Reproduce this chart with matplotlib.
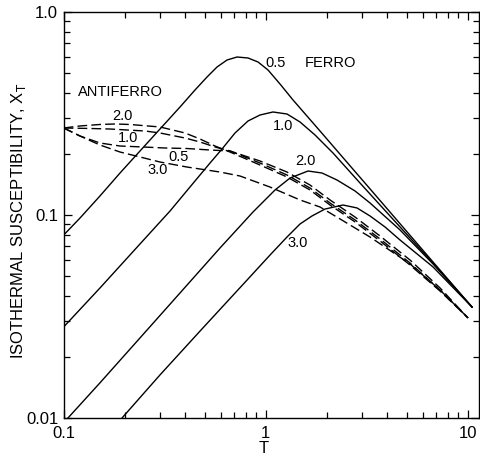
import matplotlib
matplotlib.use("Agg")
import matplotlib.pyplot as plt
from matplotlib.ticker import NullFormatter, LogLocator

plt.rcParams['font.family'] = ['Liberation Sans', 'DejaVu Sans']

# ---- Ferromagnetic curves (solid) ----
ferro_05_T = [0.100, 0.1204, 0.1512, 0.1900, 0.2386, 0.2997, 0.3765, 0.4467, 0.5123, 0.5742,
              0.6434, 0.7211, 0.8175, 0.9160, 1.0266, 1.1772, 1.3651, 1.8568, 2.4697, 3.3589,
              4.6226, 6.7297, 10.503]
ferro_05_X = [0.0797, 0.0966, 0.1241, 0.1610, 0.2067, 0.2652, 0.3404, 0.4129, 0.4784, 0.5359,
              0.5801, 0.6002, 0.5935, 0.5672, 0.5180, 0.4418, 0.3686, 0.2593, 0.1866, 0.1310,
              0.0906, 0.0587, 0.0352]

ferro_10_T = [0.100, 0.1512, 0.2386, 0.3359, 0.4467, 0.5300, 0.6077, 0.7047, 0.8175, 0.9371,
              1.0868, 1.2747, 1.4785, 1.7542, 2.1535, 2.9302, 4.1239, 6.7297, 10.503]
ferro_10_X = [0.0281, 0.0437, 0.0720, 0.1046, 0.1471, 0.1803, 0.2114, 0.2535, 0.2905, 0.3109,
              0.3217, 0.3144, 0.2872, 0.2478, 0.2020, 0.1437, 0.0989, 0.0580, 0.0352]

ferro_20_T = [0.1050, 0.1512, 0.2386, 0.3765, 0.5940, 0.8654, 1.1119, 1.3192, 1.6199, 1.9000,
              2.2542, 2.7684, 3.2832, 4.6226, 6.7297, 10.503]
ferro_20_X = [0.0100, 0.0149, 0.0248, 0.0413, 0.0688, 0.1035, 0.1328, 0.1521, 0.1647, 0.1610,
              0.1487, 0.1313, 0.1146, 0.0844, 0.0574, 0.0352]

ferro_30_T = [0.1944, 0.2997, 0.4729, 0.8081, 1.0503, 1.2747, 1.4785, 1.6951, 1.9660, 2.4140,
              2.8318, 3.2832, 3.8958, 4.6226, 6.7297, 10.503]
ferro_30_X = [0.0100, 0.0163, 0.0268, 0.0478, 0.0635, 0.0779, 0.0903, 0.0989, 0.1070, 0.1120,
              0.1083, 0.0989, 0.0873, 0.0753, 0.0555, 0.0352]

# ---- Antiferromagnetic curves (dashed) ----
af_20_T = [0.100, 0.1204, 0.1512, 0.1795, 0.2129, 0.2997, 0.3986, 0.4729, 0.5611, 0.6658,
           0.9371, 1.2747, 1.6573, 2.0811, 2.7684, 3.6805, 5.1809, 7.2946, 10.035]
af_20_X = [0.2683, 0.2745, 0.2792, 0.2808, 0.2792, 0.2714, 0.2535, 0.2368, 0.2187, 0.2043,
           0.1763, 0.1539, 0.1328, 0.1120, 0.0924, 0.0745, 0.0567, 0.0422, 0.0311]

af_10_T = [0.100, 0.1350, 0.1695, 0.2058, 0.2527, 0.2997, 0.3986, 0.4729, 0.5611, 0.6658,
           0.9371, 1.2747, 1.6573, 2.0811, 2.7684, 3.6805, 5.1809, 7.2946, 10.035]
af_10_X = [0.2683, 0.2668, 0.2652, 0.2623, 0.2593, 0.2535, 0.2395, 0.2289, 0.2163, 0.2067,
           0.1803, 0.1574, 0.1358, 0.1146, 0.0945, 0.0762, 0.0580, 0.0427, 0.0311]

af_05_T = [0.100, 0.1204, 0.1512, 0.1900, 0.2470, 0.3173, 0.4078, 0.5300, 0.6658, 0.9371,
           1.2747, 1.6573, 2.0811, 2.7684, 3.6805, 5.1809, 7.2946, 10.035]
af_05_X = [0.2683, 0.2450, 0.2263, 0.2187, 0.2163, 0.2138, 0.2126, 0.2090, 0.2067, 0.1845,
           0.1628, 0.1405, 0.1186, 0.0977, 0.0788, 0.0600, 0.0437, 0.0311]

af_30_T = [0.100, 0.1204, 0.1512, 0.1900, 0.2386, 0.2997, 0.4078, 0.5940, 0.7463, 1.0503,
           1.4785, 1.8568, 2.4697, 3.2832, 5.1809, 7.2946, 10.035]
af_30_X = [0.2683, 0.2450, 0.2212, 0.2043, 0.1931, 0.1824, 0.1723, 0.1628, 0.1556, 0.1373,
           0.1186, 0.1095, 0.0924, 0.0779, 0.0574, 0.0427, 0.0311]

x_ticks = [0.1, 1, 10]
x_tick_labels = ["0.1", "1", "10"]
y_ticks = [0.01, 0.1, 1.0]
y_tick_labels = ["0.01", "0.1", "1.0"]

fig = plt.figure(figsize=(4.8, 4.57), dpi=100)
ax = fig.add_axes([63.7 / 480, 39 / 457, (479 - 63.7) / 480, 406 / 457])
ax.set_xscale('log')
ax.set_yscale('log')

lw = 1.0
for T, X in [(ferro_05_T, ferro_05_X), (ferro_10_T, ferro_10_X),
             (ferro_20_T, ferro_20_X), (ferro_30_T, ferro_30_X)]:
    ax.plot(T, X, color='black', lw=lw, solid_joinstyle='round')

for T, X in [(af_20_T, af_20_X), (af_10_T, af_10_X),
             (af_05_T, af_05_X), (af_30_T, af_30_X)]:
    ax.plot(T, X, color='black', lw=lw, dashes=(7, 3))

ax.set_xlim(0.1, 11.37)
ax.set_ylim(0.01, 1.0)

ax.set_xticks(x_ticks, labels=x_tick_labels)
ax.set_yticks(y_ticks, labels=y_tick_labels)
ax.xaxis.set_minor_locator(LogLocator(base=10, subs=range(2, 10)))
ax.yaxis.set_minor_locator(LogLocator(base=10, subs=range(2, 10)))
ax.xaxis.set_minor_formatter(NullFormatter())
ax.yaxis.set_minor_formatter(NullFormatter())

ax.tick_params(which='both', direction='in', top=True, right=True, width=0.9)
ax.tick_params(which='major', length=6)
ax.tick_params(which='minor', length=4)
ax.tick_params(axis='x', which='major', pad=6, labelsize=12)
ax.tick_params(axis='y', which='major', pad=4, labelsize=12)
for s in ax.spines.values():
    s.set_linewidth(1.0)

ax.set_xlabel('T', fontsize=12, va='center')
ax.xaxis.set_label_coords(0.482, -0.076)
ax.set_ylabel('ISOTHERMAL SUSCEPTIBILITY, X$_{\\mathrm{T}}$', fontsize=12, va='center')
ax.yaxis.set_label_coords((18.5 - 63.7) / 415.3, 0.485)

fs = 10.5
ax.text(0.992, 0.5609, "0.5", fontsize=fs, ha='left', va='center')
ax.text(1.5654, 0.5609, "FERRO", fontsize=fs, ha='left', va='center')
ax.text(1.0868, 0.2745, "1.0", fontsize=fs, ha='left', va='center')
ax.text(1.3964, 0.1845, "2.0", fontsize=fs, ha='left', va='center')
ax.text(1.2747, 0.0728, "3.0", fontsize=fs, ha='left', va='center')
ax.text(0.1177, 0.4036, "ANTIFERRO", fontsize=fs, ha='left', va='center')
ax.text(0.1734, 0.3074, "2.0", fontsize=fs, ha='left', va='center')
ax.text(0.1857, 0.2395, "1.0", fontsize=fs, ha='left', va='center')
ax.text(0.3283, 0.1931, "0.5", fontsize=fs, ha='left', va='center')
ax.text(0.2585, 0.1666, "3.0", fontsize=fs, ha='left', va='center')

fig.savefig("out.png", dpi=100)
